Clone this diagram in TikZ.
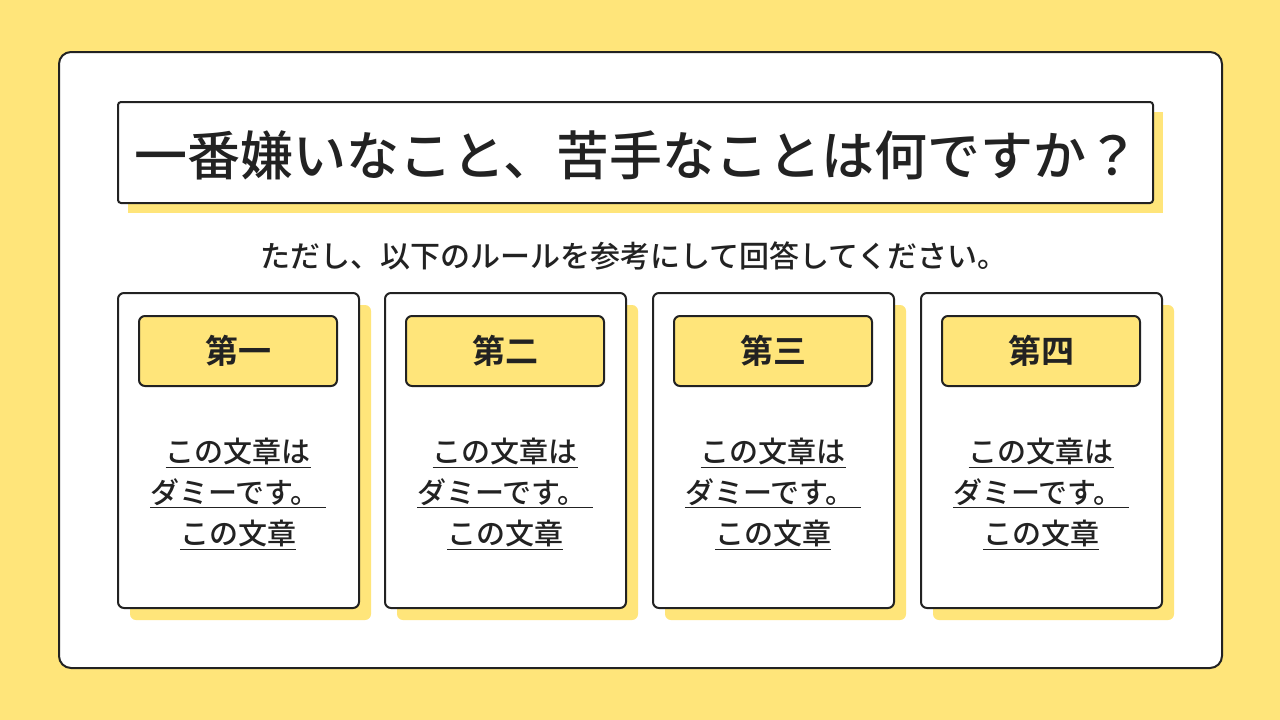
\documentclass[tikz,border=0pt]{standalone}
\usepackage{fontspec}
\setmainfont{Noto Sans CJK JP Medium}[BoldFont={Noto Sans CJK JP Bold}]
\definecolor{ybg}{HTML}{FFE57A}
\definecolor{ink}{HTML}{222222}
\tikzset{
  frame/.style={draw=ink,line width=2pt,fill=white,rounded corners=6pt},
  shadowbox/.style={fill=ybg,rounded corners=6pt},
  head/.style={draw=ink,line width=2pt,fill=ybg,rounded corners=6pt},
  headtxt/.style={font=\fontsize{33}{36}\selectfont\bfseries,text=ink},
  bodytxt/.style={font=\fontsize{29}{41}\selectfont,text=ink,align=center},
}
\begin{document}
\begin{tikzpicture}[x=1pt,y=-1pt]
\useasboundingbox (0,0) rectangle (1280,720);
\fill[ybg] (0,0) rectangle (1280,720);
\draw[frame,rounded corners=12pt] (59,52) rectangle (1222,668);
\fill[ybg] (128,112) rectangle (1163,213);
\draw[draw=ink,line width=2pt,fill=white,rounded corners=3pt] (118,102) rectangle (1153,203);
\node[font=\fontsize{53}{56}\selectfont,text=ink] (title) at (637,155) {一番嫌いなこと、苦手なことは何ですか？};
\node[font=\fontsize{30}{32}\selectfont,text=ink] (sub) at (634,256) {ただし、以下のルールを参考にして回答してください。};
\foreach \x/\h/\n in {118/第一/a,385/第二/b,653/第三/c,921/第四/d}{
  \fill[shadowbox] (\x+12,305) rectangle (\x+253,620);
  \draw[frame] (\x,293) rectangle (\x+241,608);
  \draw[head] (\x+21,316) rectangle (\x+219,386);
  \node[headtxt] (h\n) at (\x+120,351) {\h};
  \node[bodytxt] (t\n) at (\x+120,494) {\underline{この文章は}\\\underline{ダミーです。\ }\\\underline{この文章}};
}
\end{tikzpicture}
\end{document}
